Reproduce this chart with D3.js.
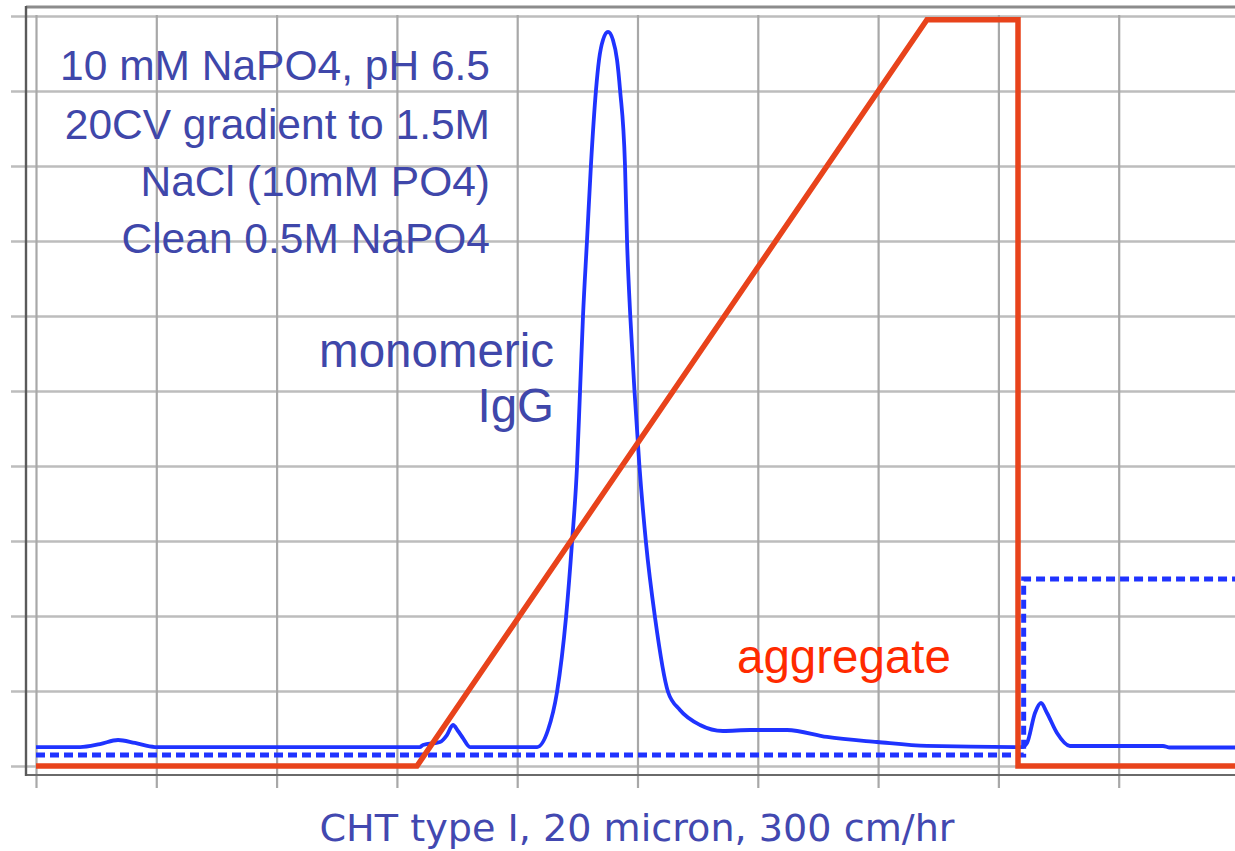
<!DOCTYPE html>
<html>
<head>
<meta charset="utf-8">
<script src="https://cdn.jsdelivr.net/npm/d3@7"></script>
<style>
  html, body { margin: 0; padding: 0; background: #fff; }
  svg { display: block; }
</style>
</head>
<body>
<svg id="chart" width="1235" height="851"></svg>
<script>
// elution volume (0-100 across the grid) and signal (% of full scale)
const uvX = [0, 3.66, 5.32, 6.82, 8.23, 9.89, 31.9, 32.17, 33.58, 34.16, 34.66, 35.08, 35.49, 36.08,
  41.65, 42.56, 43.31, 44.06, 44.56, 44.97, 45.22, 45.47, 45.8, 46.13, 46.55, 46.8, 47.13, 47.55,
  47.96, 48.3, 48.55, 48.96, 49.13, 49.4, 49.75, 50.16, 50.7, 51.45, 52.54, 53.53, 55.2, 57.11,
  59.35, 62.43, 65.75, 69.91, 74.06, 81.38, 81.96, 82.38, 83.04, 83.54, 84.04, 84.87, 85.95,
  93.68, 94.26, 99.67];
const uvY = [2.53, 2.53, 2.93, 3.47, 3.07, 2.53, 2.53, 2.8, 3.2, 4.13, 5.47, 4.67, 3.73, 2.53,
  2.53, 4.8, 9.87, 19.87, 29.87, 39.87, 49.87, 60, 70, 80.13, 90.13, 94.13, 96.8, 97.87,
  96.8, 94.13, 90.13, 80.13, 70, 60, 50, 40, 29.87, 19.87, 9.87, 7.47, 5.47, 4.67,
  4.8, 4.8, 3.87, 3.2, 2.67, 2.53, 2.53, 3.07, 7.07, 8.4, 7.07, 4.4, 2.67,
  2.67, 2.47, 2.47];

// NaCl gradient (% B)
const gradX = [0, 31.67, 74.06, 81.63, 81.63, 99.67];
const gradY = [0, 0, 99.5, 99.5, 0, 0];

// conductivity / phosphate step (dotted)
const condX = [0, 82.1, 82.1, 99.67];
const condY = [1.47, 1.47, 24.93, 24.93];

const gridTicks = [0, 10, 20, 30, 40, 50, 60, 70, 80, 90, 100];

const conditionLines = ['10 mM NaPO4, pH 6.5', '20CV gradient to 1.5M', 'NaCl (10mM PO4)', 'Clean 0.5M NaPO4'];
const peakLines = ['monomeric', 'IgG'];
const aggLabel = 'aggregate';
const caption = 'CHT type I, 20 micron, 300 cm/hr';

const svg = d3.select('#chart');
const W = 1235;

const x = d3.scaleLinear().domain([0, 100]).range([36, 1239]);
const y = d3.scaleLinear().domain([0, 100]).range([766, 16]);

// horizontal grid, sticking out left of the frame
svg.append('g')
  .attr('transform', 'translate(11,0)')
  .call(d3.axisLeft(y).tickValues(gridTicks).tickSize(-(W - 11)).tickFormat(''))
  .call(g => g.select('.domain').remove())
  .call(g => g.selectAll('line').attr('stroke', '#bdbdbd').attr('stroke-width', 2.4));

// vertical grid, sticking out below the frame
svg.append('g')
  .attr('transform', 'translate(0,788)')
  .call(d3.axisBottom(x).tickValues(gridTicks).tickSize(-(788 - 15)).tickFormat(''))
  .call(g => g.select('.domain').remove())
  .call(g => g.selectAll('line').attr('stroke', '#a8a8a8').attr('stroke-width', 2.2));

// frame
svg.append('line').attr('x1', 26).attr('x2', W).attr('y1', 7).attr('y2', 7)
  .attr('stroke', '#8c8c8c').attr('stroke-width', 3);
svg.append('line').attr('x1', 26).attr('x2', W).attr('y1', 775).attr('y2', 775)
  .attr('stroke', '#6a6a6a').attr('stroke-width', 1.8);
svg.append('line').attr('x1', 26).attr('x2', 26).attr('y1', 6).attr('y2', 776)
  .attr('stroke', '#5a5a5a').attr('stroke-width', 2.4);

const toPts = (xs, ys) => xs.map((v, i) => [v, ys[i]]);

svg.append('path')
  .datum(toPts(uvX, uvY))
  .attr('fill', 'none')
  .attr('stroke', '#1f33ff')
  .attr('stroke-width', 3.8)
  .attr('stroke-linejoin', 'round')
  .attr('d', d3.line().x(d => x(d[0])).y(d => y(d[1])).curve(d3.curveMonotoneX));

svg.append('path')
  .datum(toPts(condX, condY))
  .attr('fill', 'none')
  .attr('stroke', '#1f33ff')
  .attr('stroke-width', 5)
  .attr('stroke-dasharray', '9,5')
  .attr('d', d3.line().x(d => x(d[0])).y(d => y(d[1])));

svg.append('path')
  .datum(toPts(gradX, gradY))
  .attr('fill', 'none')
  .attr('stroke', '#e8431b')
  .attr('stroke-width', 5.5)
  .attr('stroke-linejoin', 'miter')
  .attr('d', d3.line().x(d => x(d[0])).y(d => y(d[1])));

// annotations
const blueText = '#3f47aa';
svg.append('g').selectAll('text')
  .data(conditionLines)
  .join('text')
  .attr('x', 490)
  .attr('y', (d, i) => [80, 139, 196, 253][i])
  .attr('text-anchor', 'end')
  .attr('font-family', 'Liberation Sans, Arial, sans-serif')
  .attr('font-size', 42.5)
  .attr('fill', blueText)
  .text(d => d);

svg.append('g').selectAll('text')
  .data(peakLines)
  .join('text')
  .attr('x', 554)
  .attr('y', (d, i) => [367, 422][i])
  .attr('text-anchor', 'end')
  .attr('font-family', 'Liberation Sans, Arial, sans-serif')
  .attr('font-size', 47.5)
  .attr('fill', blueText)
  .text(d => d);

svg.append('text')
  .attr('x', 737)
  .attr('y', 673)
  .attr('font-family', 'Liberation Sans, Arial, sans-serif')
  .attr('font-size', 47.5)
  .attr('fill', '#ff2a00')
  .text(aggLabel);

svg.append('text')
  .attr('x', 637)
  .attr('y', 841)
  .attr('text-anchor', 'middle')
  .attr('font-family', 'DejaVu Sans, sans-serif')
  .attr('font-size', 38)
  .attr('textLength', 635)
  .attr('lengthAdjust', 'spacingAndGlyphs')
  .attr('fill', '#4248b0')
  .text(caption);
</script>
</body>
</html>
